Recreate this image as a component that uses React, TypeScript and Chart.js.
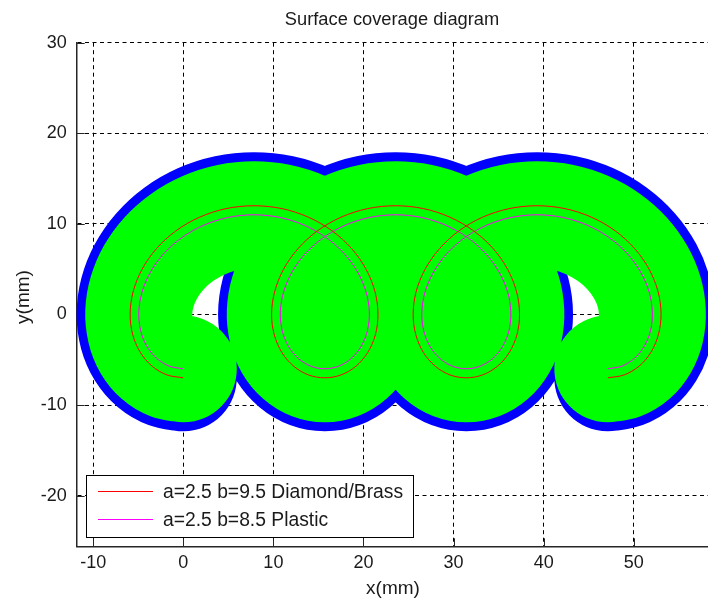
import React, { useEffect, useRef } from "react";
import { Chart, registerables } from "chart.js";

Chart.register(...registerables);

const chartTitle = "Surface coverage diagram";
const xTitle = "x(mm)";
const yTitle = "y(mm)";
const legendLabels = ["a=2.5 b=9.5 Diamond/Brass", "a=2.5 b=8.5 Plastic"];

const xTicks = [-10, 0, 10, 20, 30, 40, 50];
const yTicks = [-20, -10, 0, 10, 20, 30];

// a=2.5 b=9.5 (Diamond/Brass) path
const redX = [
  0, -1.8, -3.44, -4.75, -5.61, -5.9, -5.57, -4.59, -2.99, -0.83, 1.8, 4.74, 7.85, 10.97, 13.91, 16.53, 18.7, 20.3, 21.28, 21.61, 21.32, 20.46, 19.15, 17.51, 15.71,
  13.9, 12.27, 10.95, 10.1, 9.8, 10.14, 11.11, 12.72, 14.88, 17.5, 20.45, 23.56, 26.68, 29.62, 32.24, 34.41, 36.01, 36.99, 37.32, 37.03, 36.17, 34.86, 33.22, 31.42,
  29.61, 27.98, 26.66, 25.81, 25.51, 25.84, 26.82, 28.43, 30.59, 33.21, 36.16, 39.27, 42.38, 45.33, 47.95, 50.12, 51.72, 52.7, 53.03, 52.73, 51.88, 50.57, 48.93, 47.12,
];
const redY = [
  -7.0, -6.68, -5.73, -4.22, -2.25, 0.04, 2.5, 4.96, 7.25, 9.22, 10.73, 11.68, 12.0, 11.68, 10.73, 9.22, 7.25, 4.96, 2.5, 0.04, -2.25, -4.22, -5.73, -6.68, -7.0,
  -6.68, -5.73, -4.22, -2.25, 0.04, 2.5, 4.96, 7.25, 9.22, 10.73, 11.68, 12.0, 11.68, 10.73, 9.22, 7.25, 4.96, 2.5, 0.04, -2.25, -4.22, -5.73, -6.68, -7.0,
  -6.68, -5.73, -4.22, -2.25, 0.04, 2.5, 4.96, 7.25, 9.22, 10.73, 11.68, 12.0, 11.68, 10.73, 9.22, 7.25, 4.96, 2.5, 0.04, -2.25, -4.22, -5.73, -6.68, -7.0,
];

// a=2.5 b=8.5 (Plastic) path
const magX = [
  0, -1.55, -2.94, -4.05, -4.74, -4.94, -4.57, -3.63, -2.13, -0.12, 2.3, 5.0, 7.85, 10.71, 13.41, 15.83, 17.83, 19.34, 20.28, 20.65, 20.45, 19.75, 18.65, 17.25, 15.71,
  14.16, 12.77, 11.66, 10.97, 10.77, 11.14, 12.08, 13.58, 15.59, 18.0, 20.71, 23.56, 26.42, 29.12, 31.54, 33.54, 35.04, 35.99, 36.35, 36.16, 35.46, 34.36, 32.96, 31.42,
  29.87, 28.48, 27.37, 26.67, 26.48, 26.84, 27.79, 29.29, 31.3, 33.71, 36.42, 39.27, 42.12, 44.83, 47.24, 49.25, 50.75, 51.7, 52.06, 51.87, 51.17, 50.07, 48.67, 47.12,
];
const magY = [
  -6.0, -5.71, -4.86, -3.51, -1.75, 0.3, 2.5, 4.7, 6.75, 8.51, 9.86, 10.71, 11.0, 10.71, 9.86, 8.51, 6.75, 4.7, 2.5, 0.3, -1.75, -3.51, -4.86, -5.71, -6.0,
  -5.71, -4.86, -3.51, -1.75, 0.3, 2.5, 4.7, 6.75, 8.51, 9.86, 10.71, 11.0, 10.71, 9.86, 8.51, 6.75, 4.7, 2.5, 0.3, -1.75, -3.51, -4.86, -5.71, -6.0,
  -5.71, -4.86, -3.51, -1.75, 0.3, 2.5, 4.7, 6.75, 8.51, 9.86, 10.71, 11.0, 10.71, 9.86, 8.51, 6.75, 4.7, 2.5, 0.3, -1.75, -3.51, -4.86, -5.71, -6.0,
];

const FONT = '"Liberation Sans", Arial, sans-serif';
const TEXT = "#1a1a1a";

const toPoints = (xs: number[], ys: number[]) => xs.map((x, i) => ({ x, y: ys[i] }));

const overlayPlugin = {
  id: "matlabOverlay",
  beforeDatasetsDraw(chart: any) {
    const ctx = chart.ctx;
    const xs = chart.scales.x;
    const ys = chart.scales.y;
    const { left, bottom } = chart.chartArea;
    ctx.save();
    ctx.strokeStyle = "#262626";
    ctx.lineWidth = 1;
    ctx.beginPath();
    xTicks.forEach((v) => {
      const p = Math.round(xs.getPixelForValue(v)) + 0.5;
      ctx.moveTo(p, bottom);
      ctx.lineTo(p, bottom - 8);
    });
    yTicks.forEach((v) => {
      const p = Math.round(ys.getPixelForValue(v)) + 0.5;
      ctx.moveTo(left, p);
      ctx.lineTo(left + 8, p);
    });
    ctx.stroke();
    ctx.restore();
  },
  afterDraw(chart: any) {
    const ctx = chart.ctx;
    ctx.save();
    ctx.fillStyle = TEXT;
    ctx.textAlign = "center";
    ctx.textBaseline = "alphabetic";
    ctx.font = `18.3px ${FONT}`;
    ctx.fillText(chartTitle, 392, 25);
    ctx.font = `19px ${FONT}`;
    ctx.fillText(xTitle, 393, 594);
    ctx.save();
    ctx.translate(29, 297);
    ctx.rotate(-Math.PI / 2);
    ctx.fillText(yTitle, 0, 0);
    ctx.restore();

    // legend box
    const bx = 86.5, by = 475.5, bw = 327, bh = 62;
    ctx.fillStyle = "#ffffff";
    ctx.fillRect(bx, by, bw, bh);
    ctx.strokeStyle = "#000000";
    ctx.lineWidth = 1;
    ctx.strokeRect(bx, by, bw, bh);
    const colors = ["#ff0000", "#ff00ff"];
    const rowsY = [491.5, 519.5];
    legendLabels.forEach((lab, i) => {
      ctx.strokeStyle = colors[i];
      ctx.beginPath();
      ctx.moveTo(98, rowsY[i]);
      ctx.lineTo(153, rowsY[i]);
      ctx.stroke();
      ctx.fillStyle = TEXT;
      ctx.textAlign = "left";
      ctx.textBaseline = "middle";
      ctx.font = `19.3px ${FONT}`;
      ctx.fillText(lab, 163, rowsY[i] + 1);
    });
    ctx.restore();
  },
};

export default function App() {
  const ref = useRef<HTMLCanvasElement | null>(null);
  useEffect(() => {
    if (!ref.current) return;
    const thick = {
      borderWidth: 107,
      borderCapStyle: "round",
      borderJoinStyle: "round",
      pointRadius: 0,
      showLine: true,
      tension: 0.33,
      clip: false,
    };
    const thin = {
      borderWidth: 1,
      pointRadius: 0,
      showLine: true,
      tension: 0.33,
    };
    const chart = new Chart(ref.current, {
      type: "scatter",
      data: {
        datasets: [
          { ...thin, label: legendLabels[0], data: toPoints(redX, redY), borderColor: "#ff0000" },
          { ...thin, label: legendLabels[1], data: toPoints(magX, magY), borderColor: "#ff00ff" },
          { ...thick, label: "plastic coverage", data: toPoints(magX, magY), borderColor: "#00ff00" },
          { ...thick, label: "brass coverage", data: toPoints(redX, redY), borderColor: "#0000ff" },
        ] as any,
      },
      options: {
        responsive: false,
        animation: false,
        devicePixelRatio: 1,
        layout: { padding: { top: 42.7, right: 0, left: 0, bottom: 0 } },
        plugins: { legend: { display: false }, title: { display: false }, tooltip: { enabled: false } },
        scales: {
          x: {
            type: "linear",
            min: -11.83,
            max: 58.24,
            afterBuildTicks: (s: any) => {
              s.ticks = xTicks.map((v) => ({ value: v }));
            },
            afterFit: (s: any) => {
              s.height = 52.7;
            },
            grid: { color: "#000000", lineWidth: 1, drawTicks: false },
            border: { display: true, color: "#262626", width: 1.5, dash: [4, 3.5] },
            ticks: { font: { family: FONT, size: 18 }, color: TEXT, padding: 6, maxRotation: 0 },
          },
          y: {
            type: "linear",
            min: -25.6,
            max: 30,
            afterBuildTicks: (s: any) => {
              s.ticks = yTicks.map((v) => ({ value: v }));
            },
            afterFit: (s: any) => {
              s.width = 76.7;
            },
            grid: { color: "#000000", lineWidth: 1, drawTicks: false },
            border: { display: true, color: "#262626", width: 1.5, dash: [4, 3.5] },
            ticks: { font: { family: FONT, size: 18 }, color: TEXT, padding: 10 },
          },
        },
      } as any,
      plugins: [overlayPlugin],
    });
    return () => chart.destroy();
  }, []);
  return (
    <div style={{ position: "absolute", left: 0, top: 0, width: 708, height: 599, overflow: "hidden", background: "#fff" }}>
      <canvas ref={ref} width={708} height={599} style={{ display: "block" }} />
    </div>
  );
}
